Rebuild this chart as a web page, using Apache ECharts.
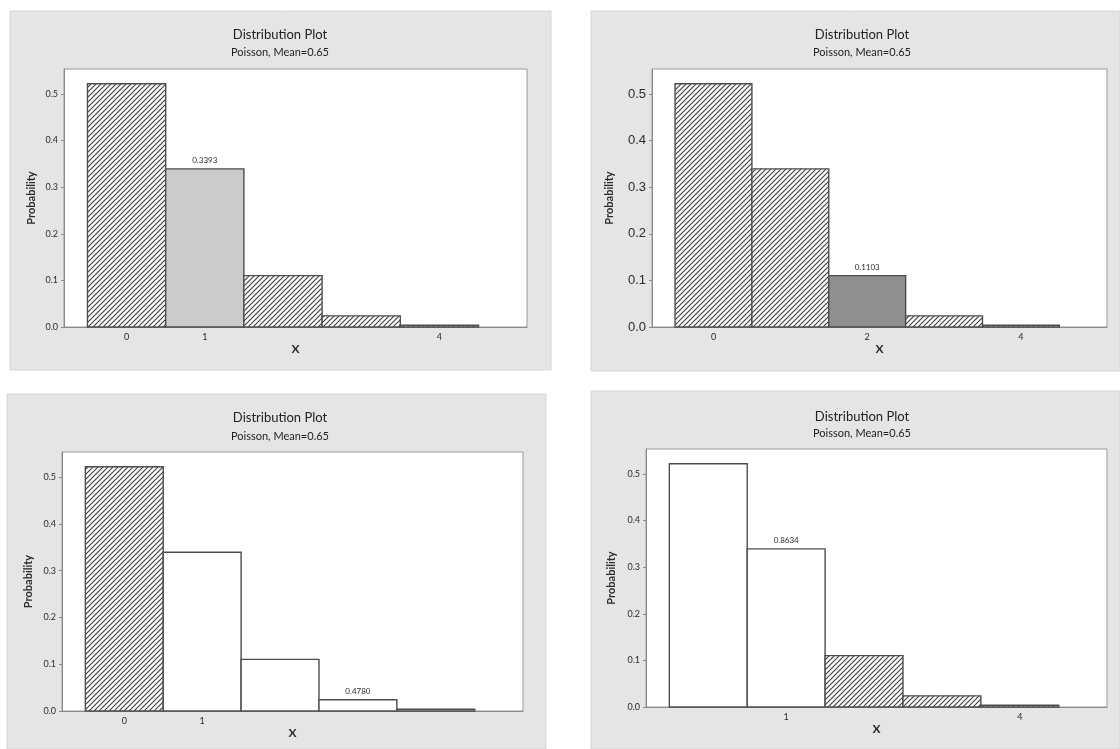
<!DOCTYPE html>
<html>
<head>
<meta charset="utf-8">
<script src="https://cdn.jsdelivr.net/npm/echarts@6/dist/echarts.min.js"></script>
<style>
  html, body { margin: 0; padding: 0; background: #ffffff; }
  #chart { width: 1120px; height: 749px; }
</style>
</head>
<body>
<div id="chart"></div>
<script>
// ---- data ----
const xValues = [0, 1, 2, 3, 4];
const probability = [0.5220, 0.3393, 0.1103, 0.0239, 0.0039];
const chartTitle = 'Distribution Plot';
const chartSubtitle = 'Poisson, Mean=0.65';
const xAxisName = 'X';
const yAxisName = 'Probability';
const yTickValues = [0, 0.1, 0.2, 0.3, 0.4, 0.5];

// per plot: x values drawn hatched, x value drawn solid grey, x tick labels, annotation
const plotHatched = [[0, 2, 3, 4], [0, 1, 3, 4], [0], [2, 3, 4]];
const plotSolid = [1, 2, null, null];
const plotXTicks = [[0, 1, 4], [0, 2, 4], [0, 1], [1, 4]];
const plotNoteX = [1, 2, 3, 1];
const plotNoteText = [null, null, '0.4780', '0.8634']; // null: the bar's own probability

// ---- layout ----
const panels = [
  { bg: [10, 11, 541, 359], grid: [64, 69, 463, 258], titleX: 280, titleY: 35, subY: 52,
    solidColor: '#cbcbcb', yFont: 9, yFamily: 'Lato', nameGap: 27 },
  { bg: [591, 11, 529, 360], grid: [652, 69, 455, 258], titleX: 862, titleY: 35, subY: 52,
    solidColor: '#8f8f8f', yFont: 13, yFamily: 'Liberation Sans', nameGap: 37 },
  { bg: [7, 394, 539, 355], grid: [62, 452, 461, 259], titleX: 280, titleY: 418, subY: 436,
    solidColor: '#ffffff', yFont: 9, yFamily: 'Lato', nameGap: 28 },
  { bg: [591, 391, 529, 358], grid: [646, 449, 461, 258], titleX: 862, titleY: 417, subY: 433,
    solidColor: '#ffffff', yFont: 9, yFamily: 'Lato', nameGap: 29 }
];

const X_MIN = -0.8, X_MAX = 5.12, Y_MAX = 0.5535;
const textColor = '#2b2b2b';

// diagonal hatch tile
function makeHatch() {
  const s = 5;
  const c = document.createElement('canvas');
  c.width = s; c.height = s;
  const g = c.getContext('2d');
  g.fillStyle = '#ffffff';
  g.fillRect(0, 0, s, s);
  g.strokeStyle = '#3c3c3c';
  g.lineWidth = 1.1;
  g.beginPath();
  g.moveTo(-1, s + 1); g.lineTo(s + 1, -1);
  g.moveTo(-1, 1); g.lineTo(1, -1);
  g.moveTo(s - 1, s + 1); g.lineTo(s + 1, s - 1);
  g.stroke();
  return c;
}
const hatchTile = makeHatch();

const chart = echarts.init(document.getElementById('chart'), null, { renderer: 'canvas' });

const grids = [], xAxes = [], yAxes = [], series = [], graphics = [];

panels.forEach((pn, k) => {
  graphics.push({
    type: 'rect', z: -10,
    shape: { x: pn.bg[0], y: pn.bg[1], width: pn.bg[2], height: pn.bg[3] },
    style: { fill: '#e5e5e5', stroke: '#d6d6d6', lineWidth: 1 }
  });
  graphics.push({
    type: 'text', z: 10,
    style: { text: chartTitle, x: pn.titleX, y: pn.titleY, align: 'center', verticalAlign: 'middle',
             font: '13px Lato', fill: '#222222' }
  });
  graphics.push({
    type: 'text', z: 10,
    style: { text: chartSubtitle, x: pn.titleX, y: pn.subY, align: 'center', verticalAlign: 'middle',
             font: '11px Lato', fill: '#222222' }
  });

  grids.push({
    left: pn.grid[0], top: pn.grid[1], width: pn.grid[2], height: pn.grid[3],
    show: true, backgroundColor: '#ffffff', borderColor: '#9a9a9a', borderWidth: 1
  });

  xAxes.push({
    type: 'value', gridIndex: k, min: X_MIN, max: X_MAX,
    name: xAxisName, nameLocation: 'middle', nameGap: 15,
    nameTextStyle: { fontFamily: 'Lato', fontSize: 12, fontWeight: 'bold', color: textColor },
    axisLine: { show: true, onZero: false, lineStyle: { color: '#8a8a8a', width: 1 } },
    axisTick: { show: false },
    splitLine: { show: false },
    axisLabel: { customValues: plotXTicks[k], margin: 6, fontSize: 9, fontFamily: 'Lato',
                 color: textColor, formatter: v => String(v) }
  });

  yAxes.push({
    type: 'value', gridIndex: k, min: 0, max: Y_MAX,
    name: yAxisName, nameLocation: 'middle', nameGap: pn.nameGap,
    nameTextStyle: { fontFamily: 'Lato', fontSize: 11, fontWeight: 'bold', color: textColor },
    axisLine: { show: true, onZero: false, lineStyle: { color: '#8a8a8a', width: 1 } },
    axisTick: { show: true, customValues: yTickValues, length: 3, lineStyle: { color: '#8a8a8a' } },
    splitLine: { show: false },
    axisLabel: { customValues: yTickValues, margin: 6, fontSize: pn.yFont, fontFamily: pn.yFamily,
                 color: textColor, formatter: v => v.toFixed(1) }
  });

  const hatched = plotHatched[k];
  const solid = plotSolid[k];
  const noteX = plotNoteX[k];
  const noteText = plotNoteText[k];

  series.push({
    type: 'custom', xAxisIndex: k, yAxisIndex: k, clip: false,
    data: xValues.map((x, i) => [x, probability[i]]),
    renderItem: (params, api) => {
      const x = api.value(0), p = api.value(1);
      const tl = api.coord([x - 0.5, p]);
      const br = api.coord([x + 0.5, 0]);
      let fill = '#ffffff';
      if (hatched.indexOf(x) >= 0) fill = { image: hatchTile, repeat: 'repeat' };
      else if (x === solid) fill = pn.solidColor;
      const children = [{
        type: 'rect',
        shape: { x: tl[0], y: tl[1], width: br[0] - tl[0], height: br[1] - tl[1] },
        style: { fill: fill, stroke: '#4d4d4d', lineWidth: 1.4 }
      }];
      if (x === noteX) {
        children.push({
          type: 'text',
          style: { text: noteText === null ? p.toFixed(4) : noteText,
                   x: (tl[0] + br[0]) / 2, y: tl[1] - 8, align: 'center', verticalAlign: 'middle',
                   font: '8px Lato', fill: textColor }
        });
      }
      return { type: 'group', children: children };
    }
  });
});

chart.setOption({
  animation: false,
  backgroundColor: '#ffffff',
  grid: grids,
  xAxis: xAxes,
  yAxis: yAxes,
  series: series,
  graphic: { elements: graphics }
});
</script>
</body>
</html>
